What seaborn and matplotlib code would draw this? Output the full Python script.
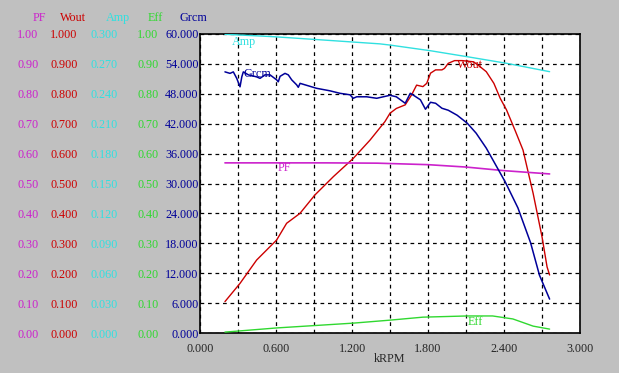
import numpy as np
import pandas as pd
import matplotlib
matplotlib.use("Agg")
import matplotlib.pyplot as plt
import seaborn as sns

# ---------- data ----------
amp_k = [0.197, 0.58, 0.97, 1.42, 1.5, 1.82, 1.95, 2.11, 2.42, 2.76]
amp_v = [0.2997, 0.2973, 0.294, 0.2901, 0.2889, 0.2832, 0.2805, 0.2772, 0.2706, 0.2622]

grcm_k = [0.197, 0.237, 0.263, 0.29, 0.316, 0.33, 0.342, 0.382, 0.447, 0.474, 0.513,
          0.553, 0.605, 0.618, 0.632, 0.671, 0.697, 0.724, 0.763, 0.776, 0.79, 0.829,
          0.921, 1.026, 1.105, 1.184, 1.21, 1.237, 1.316, 1.395, 1.447, 1.5, 1.55,
          1.62, 1.66, 1.68, 1.74, 1.78, 1.82, 1.86, 1.91, 1.96, 2.03, 2.11, 2.18,
          2.26, 2.41, 2.51, 2.61, 2.68, 2.76]
grcm_v = [52.4, 52.1, 52.4, 51.1, 49.4, 51.4, 52.4, 51.8, 51.4, 51.1, 51.8,
          51.8, 50.8, 50.4, 51.5, 52.1, 51.8, 50.8, 49.8, 49.3, 50.1, 49.8,
          49.1, 48.6, 48.1, 47.8, 47.1, 47.4, 47.4, 47.1, 47.4, 47.7, 47.4,
          46.1, 48.1, 47.8, 46.8, 44.9, 46.3, 46.1, 45.1, 44.7, 43.7, 42.1, 40.1,
          37.1, 30.3, 25.1, 18.1, 11.6, 6.8]

wout_k = [0.197, 0.316, 0.447, 0.605, 0.684, 0.789, 0.908, 1.053, 1.21, 1.342, 1.46,
          1.50, 1.55, 1.62, 1.67, 1.71, 1.76, 1.79, 1.82, 1.86, 1.91, 1.93, 1.96,
          2.01, 2.07, 2.16, 2.21, 2.26, 2.32, 2.37, 2.42, 2.49, 2.55, 2.63, 2.70,
          2.74, 2.76]
wout_v = [0.105, 0.166, 0.244, 0.311, 0.367, 0.400, 0.462, 0.523, 0.584, 0.645, 0.707,
          0.735, 0.751, 0.763, 0.796, 0.829, 0.824, 0.835, 0.869, 0.880, 0.880, 0.885, 0.902,
          0.911, 0.911, 0.907, 0.891, 0.874, 0.835, 0.785, 0.746, 0.675, 0.612, 0.467, 0.322,
          0.221, 0.194]

pf_k = [0.197, 0.6, 1.0, 1.4, 1.8, 2.1, 2.4, 2.76]
pf_v = [0.569, 0.569, 0.569, 0.568, 0.563, 0.555, 0.543, 0.532]

eff_k = [0.197, 0.608, 1.21, 1.50, 1.76, 2.11, 2.31, 2.47, 2.63, 2.76]
eff_v = [0.003, 0.017, 0.033, 0.043, 0.053, 0.057, 0.057, 0.047, 0.023, 0.013]

x_ticks = [0.0, 0.6, 1.2, 1.8, 2.4, 3.0]
x_grid = [0.3, 0.9, 1.5, 2.1, 2.7]

# ---------- style ----------
sns.set_style("white")
plt.rcParams['font.family'] = ['Liberation Serif', 'DejaVu Serif']
plt.rcParams['font.size'] = 8.7

BG = '#C0C0C0'
C_PF, C_WOUT, C_AMP, C_EFF, C_GRCM = '#CC22CC', '#CC0000', '#30E0E0', '#30D830', '#000099'

fig = plt.figure(figsize=(6.19, 3.73), dpi=100, facecolor=BG)
ax = fig.add_axes([200/619, 40/373, 380/619, 299/373])
ax.set_facecolor('white')

# Grcm scale on the main axis
ax.set_xlim(0, 3.0)
ax.set_ylim(0, 60)
grcm_ticks = np.arange(0, 60.1, 6)
ax.set_yticks(grcm_ticks)
ax.set_yticklabels([f"{v:.3f}" for v in grcm_ticks], color=C_GRCM)
ax.set_xticks(x_ticks)
ax.set_xticklabels([f"{v:.3f}" for v in x_ticks])
ax.set_xticks(x_grid, minor=True)
ax.tick_params(axis='both', which='both', length=0)
ax.tick_params(axis='y', pad=1)
ax.tick_params(axis='x', pad=7)
ax.grid(True, which='both', color='black', linestyle=(0, (3, 3)), linewidth=0.9)
for s in ax.spines.values():
    s.set_color('black')
    s.set_linewidth(1.2)
ax.set_xlabel("kRPM", labelpad=-1)


def make_scale(offset_px, top, fmt, color):
    # extra y scale drawn as a column of labels left of the plot
    a = ax.twinx()
    a.set_zorder(ax.get_zorder() + 1)
    a.patch.set_visible(False)
    a.yaxis.set_ticks_position('left')
    a.yaxis.set_label_position('left')
    a.spines['left'].set_position(('outward', offset_px * 72 / 100))
    for s in a.spines.values():
        s.set_visible(False)
    a.set_ylim(0, top)
    ticks = np.linspace(0, top, 11)
    a.set_yticks(ticks)
    a.set_yticklabels([fmt.format(t) for t in ticks], color=color)
    a.tick_params(axis='y', length=0, pad=1)
    return a


ax_eff = make_scale(40, 1.0, "{:.2f}", C_EFF)
ax_amp = make_scale(81, 0.3, "{:.3f}", C_AMP)
ax_wout = make_scale(121, 1.0, "{:.3f}", C_WOUT)
ax_pf = make_scale(160, 1.0, "{:.2f}", C_PF)

# grcm curve goes on a twin too so it sits above the grid
ax_grcm = ax.twinx()
ax_grcm.set_zorder(ax.get_zorder() + 1)
ax_grcm.patch.set_visible(False)
ax_grcm.set_ylim(0, 60)
ax_grcm.axis('off')

# ---------- curves ----------
sns.lineplot(x=amp_k, y=amp_v, ax=ax_amp, color=C_AMP, linewidth=1.0, sort=False, estimator=None)
sns.lineplot(x=grcm_k, y=grcm_v, ax=ax_grcm, color=C_GRCM, linewidth=1.1, sort=False, estimator=None)
sns.lineplot(x=wout_k, y=wout_v, ax=ax_wout, color=C_WOUT, linewidth=1.0, sort=False, estimator=None)
sns.lineplot(x=pf_k, y=pf_v, ax=ax_pf, color=C_PF, linewidth=1.2, sort=False, estimator=None)
sns.lineplot(x=eff_k, y=eff_v, ax=ax_eff, color=C_EFF, linewidth=1.0, sort=False, estimator=None)
for a in (ax_amp, ax_wout, ax_pf, ax_eff, ax_grcm):
    a.set_xlim(0, 3.0)
    a.set_ylabel("")

# curve labels inside the plot
ax_amp.text(0.25, 0.292, "Amp", color=C_AMP, va='center')
ax_grcm.text(0.34, 52.0, "Grcm", color=C_GRCM, va='center')
ax_wout.text(2.03, 0.895, "Wout", color=C_WOUT, va='center')
ax_pf.text(0.61, 0.553, "PF", color=C_PF, va='center')
ax_eff.text(2.11, 0.037, "Eff", color=C_EFF, va='center')

# column headers
for name, xc, col in [("PF", 39, C_PF), ("Wout", 73, C_WOUT), ("Amp", 118, C_AMP),
                      ("Eff", 155, C_EFF), ("Grcm", 193, C_GRCM)]:
    fig.text(xc / 619, 1 - 18 / 373, name, color=col, ha='center', va='center')

fig.savefig("out.png", dpi=100, facecolor=BG)
